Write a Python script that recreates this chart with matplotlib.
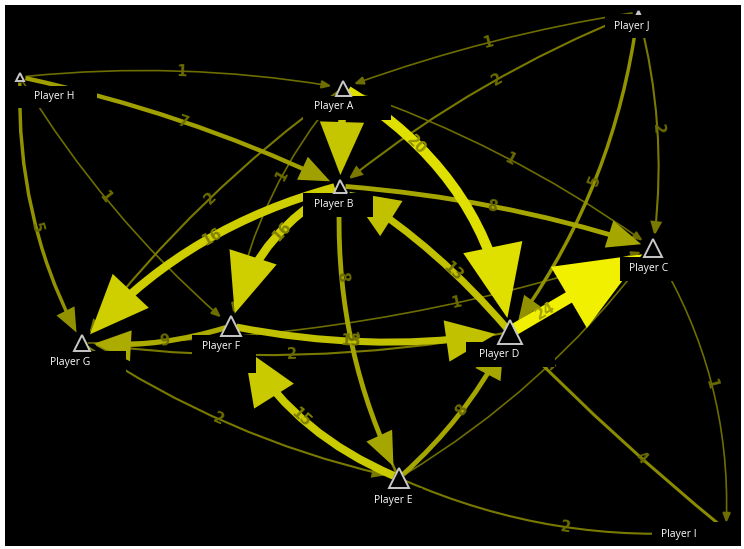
"""Passing network between ten players, drawn as curved weighted arrows."""

import numpy as np
import matplotlib

matplotlib.use("Agg")
import matplotlib.pyplot as plt
from matplotlib.patches import FancyArrowPatch, Rectangle

# --- data -------------------------------------------------------------
players = ["H", "A", "J", "B", "C", "G", "F", "D", "E", "I"]
sources = ["H", "H", "H", "H", "A", "A", "A", "A", "A", "J", "J", "J", "J",
           "B", "B", "B", "B", "E", "D", "F", "F", "E", "D", "D", "E", "E",
           "C", "I", "E", "G", "G"]
targets = ["A", "B", "G", "F", "B", "D", "C", "G", "F", "A", "B", "D", "C",
           "C", "G", "F", "E", "B", "B", "D", "G", "F", "G", "C", "D", "C",
           "I", "D", "I", "E", "C"]
weights = [1, 7, 5, 1, 14, 20, 1, 2, 1, 1, 2, 5, 2,
           8, 16, 16, 8, 3, 13, 13, 9, 15, 2, 24, 8, 1,
           1, 4, 2, 2, 1]

# --- layout (pixel positions of the picture) ----------------------------
node_xy = {"H": (20, 77), "A": (343, 88), "J": (638, 12), "B": (340, 186),
           "C": (653, 248), "G": (82, 343), "F": (231, 326), "D": (510, 332),
           "E": (399, 478), "I": (726, 530)}
marker_px = {"H": 8, "A": 15, "J": 3, "B": 13, "C": 18, "G": 16, "F": 20,
             "D": 24, "E": 20, "I": 0}
label_xy = {"H": (54, 96), "A": (334, 107), "J": (632, 26), "B": (334, 205),
            "C": (649, 268), "G": (70, 363), "F": (221, 346), "D": (499, 355),
            "E": (393, 500), "I": (679, 534)}
# label boxes: x0, y0, x1, y1
label_box = {"H": (12, 86, 97, 108), "A": (303, 96, 391, 120), "J": (605, 14, 662, 38),
             "B": (303, 193, 373, 217), "C": (620, 257, 679, 281),
             "G": (40, 351, 126, 378), "F": (192, 335, 256, 373),
             "D": (466, 342, 555, 367), "E": (365, 488, 422, 512),
             "I": (652, 522, 741, 546)}
# arc3 bend of each edge, label position along it, and extra gap at the head
curv = [-0.07, -0.06, 0.135, 0.08, 0.0, -0.23, -0.075, 0.077, 0.14, 0.05, 0.075,
        -0.13, -0.1, -0.06, 0.15, 0.21, 0.13, -0.13, 0.08, 0.09, -0.1, -0.18,
        -0.08, 0.0, 0.1, 0.1, -0.155, -0.03, 0.134, 0.096, 0.083]
label_t = [0.5, 0.5, 0.55, 0.45, None, 0.3, 0.52, 0.47, 0.4, 0.5, 0.45,
           0.5, 0.5, 0.48, 0.45, 0.4, 0.3, 0.5, 0.37, 0.43, 0.45, 0.5,
           0.51, 0.25, 0.5, 0.55, 0.5, 0.38, 0.52, 0.45, 0.65]
head_gap = {21: 26}

W, H = 744, 549
fig = plt.figure(figsize=(W / 100, H / 100), dpi=100, facecolor="white")
ax = fig.add_axes([0, 0, 1, 1])
ax.set_xlim(0, W)
ax.set_ylim(H, 0)
ax.axis("off")
ax.add_patch(Rectangle((5, 5), 736, 541, facecolor="black", edgecolor="none", zorder=0))

PX = 0.72  # points per pixel at 100 dpi


def brightness(w):
    return 0.34 + 0.6 * (w / 24) ** 0.6


order = np.argsort(weights, kind="stable")
for i in order:
    s, d, w, rad = sources[i], targets[i], weights[i], curv[i]
    p0 = np.array(node_xy[s], float)
    p2 = np.array(node_xy[d], float)
    b = brightness(w)
    col = (b, b, 0.0)
    head_len = (6 + 2.4 * w) * PX
    head_w = (5 + 2.0 * w) * PX / 2
    gap = head_gap.get(i, 7 + marker_px[d] * 0.3)
    arrow = FancyArrowPatch(
        p0, p2,
        connectionstyle=f"arc3,rad={rad}",
        arrowstyle=f"-|>,head_length={head_len:.1f},head_width={head_w:.1f}",
        mutation_scale=1,
        linewidth=(1.2 + 0.45 * w) * PX,
        color=col,
        shrinkA=4, shrinkB=gap * PX,
        joinstyle="miter", capstyle="butt",
        zorder=2 + w / 100,
    )
    ax.add_patch(arrow)

    t = label_t[i]
    if t is None:
        continue
    dp = p2 - p0
    ctrl = (p0 + p2) / 2 + rad * np.array([-dp[1], dp[0]])
    pos = (1 - t) ** 2 * p0 + 2 * t * (1 - t) * ctrl + t ** 2 * p2
    tan = 2 * (1 - t) * (ctrl - p0) + 2 * t * (p2 - ctrl)
    ang = np.degrees(np.arctan2(-tan[1], tan[0]))
    if ang > 90:
        ang -= 180
    elif ang < -90:
        ang += 180
    lb = max(0.42, b - 0.3)
    ax.text(pos[0], pos[1], str(w), rotation=ang, rotation_mode="anchor",
            ha="center", va="center", fontsize=10.5, fontweight="bold",
            color=(lb, lb, 0.0), family="DejaVu Sans", zorder=3)

# node label boxes, then triangles
for p in players:
    x0, y0, x1, y1 = label_box[p]
    ax.add_patch(Rectangle((x0, y0), x1 - x0, y1 - y0, facecolor="black",
                           edgecolor="none", zorder=5))
    lx, ly = label_xy[p]
    ax.text(lx, ly, f"Player {p}", ha="center", va="center", fontsize=7.5,
            color="white", family="Open Sans", zorder=5.5)
for p in players:
    if marker_px[p] == 0:
        continue
    x, y = node_xy[p]
    ax.plot(x, y, marker="^", markersize=marker_px[p] * PX, markerfacecolor="black",
            markeredgecolor="#c8c8c8", markeredgewidth=1.4, zorder=6)

fig.savefig("out.png", dpi=100, facecolor="white")
